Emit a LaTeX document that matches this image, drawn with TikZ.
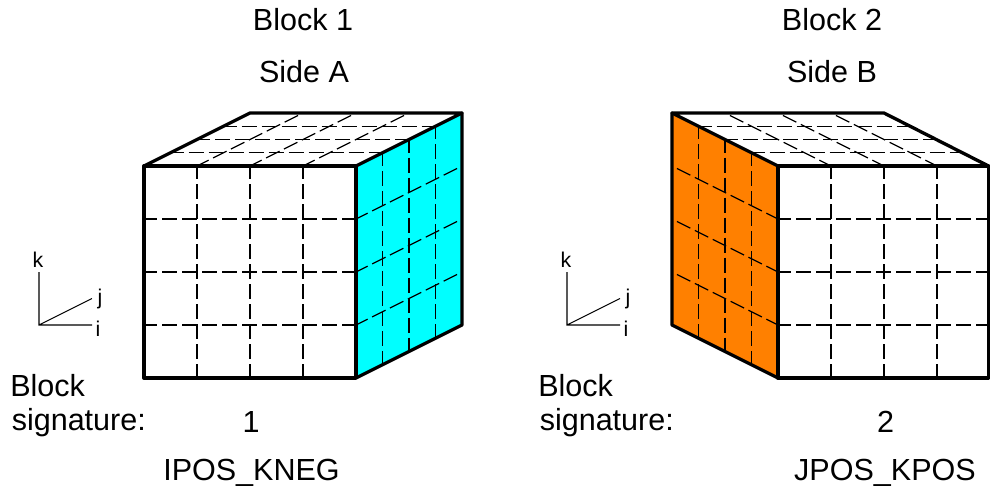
\documentclass[tikz,border=0pt]{standalone}
\usepackage{fontspec}
\setmainfont{Liberation Sans}
\definecolor{sideacyan}{RGB}{0,255,255}
\definecolor{sideborange}{RGB}{255,128,0}
\tikzset{
  edgeline/.style={line width=2.5pt,line join=round,line cap=round},
  gridline/.style={line width=0.85pt,dash pattern=on 11.25pt off 3.75pt,dash phase=1.5pt,black},
  axisline/.style={line width=0.8pt},
  bigtext/.style={font=\fontsize{22.9}{27}\selectfont,inner sep=0pt},
  axistext/.style={font=\fontsize{16}{19}\selectfont,inner sep=0pt,anchor=base}
}
\begin{document}
\begin{tikzpicture}[x=0.75pt,y=-0.75pt]
  \useasboundingbox (0,0) rectangle (990,486);
  % Block 1: front 144..356, 166..378, offset to the back (106,-53)
  \fill[sideacyan] (356,166) -- (462,113) -- (462,325) -- (356,378) -- cycle;
  \foreach \x in {197,250,303} {
    \draw[gridline] (\x,166) -- (\x,378);
    \draw[gridline] (\x,166) -- +(106,-53);
  }
  \foreach \y in {219,272,325} {
    \draw[gridline] (144,\y) -- (356,\y);
    \draw[gridline] (356,\y) -- +(106,-53);
  }
  \foreach \d in {26.5,53,79.5} {
    \draw[gridline] (144+\d,166-\d/2) -- +(212,0);
    \draw[gridline] (356+\d,166-\d/2) -- +(0,212);
  }
  \draw[edgeline] (144,166) rectangle (356,378);
  \draw[edgeline] (144,166) -- (250,113) -- (462,113) -- (356,166);
  \draw[edgeline] (462,113) -- (462,325) -- (356,378);
  % Block 2: front 778..990, offset to the back (-106,-53)
  \fill[sideborange] (778,166) -- (672,113) -- (672,325) -- (778,378) -- cycle;
  \foreach \x in {831,884,937} {
    \draw[gridline] (\x,166) -- (\x,378);
    \draw[gridline] (\x,166) -- +(-106,-53);
  }
  \foreach \y in {219,272,325} {
    \draw[gridline] (778,\y) -- (988.5,\y);
    \draw[gridline] (778,\y) -- +(-106,-53);
  }
  \foreach \d in {26.5,53,79.5} {
    \draw[gridline] (778-\d,166-\d/2) -- +(212,0);
    \draw[gridline] (778-\d,166-\d/2) -- +(0,212);
  }
  \draw[edgeline] (778,166) rectangle (988.5,378);
  \draw[edgeline] (988.5,166) -- (884,113) -- (672,113) -- (778,166);
  \draw[edgeline] (672,113) -- (672,325) -- (778,378);
  % axes
  \coordinate (orgA) at (39,325);
  \coordinate (kA) at (39,272);
  \coordinate (jA) at (92,298.5);
  \coordinate (iA) at (92,325);
  \draw[axisline] (kA) -- (orgA) -- (iA) (orgA) -- (jA);
  \node[axistext] (klabA) at (38,267) {k};
  \node[axistext] (jlabA) at (100,304) {j};
  \node[axistext] (ilabA) at (98,336) {i};
  \coordinate (orgB) at (567,325);
  \coordinate (kB) at (567,272);
  \coordinate (jB) at (620,298.5);
  \coordinate (iB) at (620,325);
  \draw[axisline] (kB) -- (orgB) -- (iB) (orgB) -- (jB);
  \node[axistext] (klabB) at (566,267) {k};
  \node[axistext] (jlabB) at (628,304) {j};
  \node[axistext] (ilabB) at (626,336) {i};
  % labels
  \node[bigtext,anchor=base] (blockA) at (303,30) {Block 1};
  \node[bigtext,anchor=base] (sideA) at (304,82) {Side A};
  \node[bigtext,anchor=base] (blockB) at (832,30) {Block 2};
  \node[bigtext,anchor=base] (sideB) at (832,82) {Side B};
  \node[bigtext,anchor=base west] (sigtopA) at (10,396) {Block};
  \node[bigtext,anchor=base west] (sigA) at (11.5,430) {signature:};
  \node[bigtext,anchor=base west] (sigtopB) at (538,396) {Block};
  \node[bigtext,anchor=base west] (sigB) at (539.5,430) {signature:};
  \node[bigtext,anchor=base] (numA) at (251,432) {1};
  \node[bigtext,anchor=base] (numB) at (885.5,432) {2};
  \node[bigtext,anchor=base] (nameA) at (251.5,480) {IPOS\_KNEG};
  \node[bigtext,anchor=base] (nameB) at (885,480) {JPOS\_KPOS};
\end{tikzpicture}
\end{document}
